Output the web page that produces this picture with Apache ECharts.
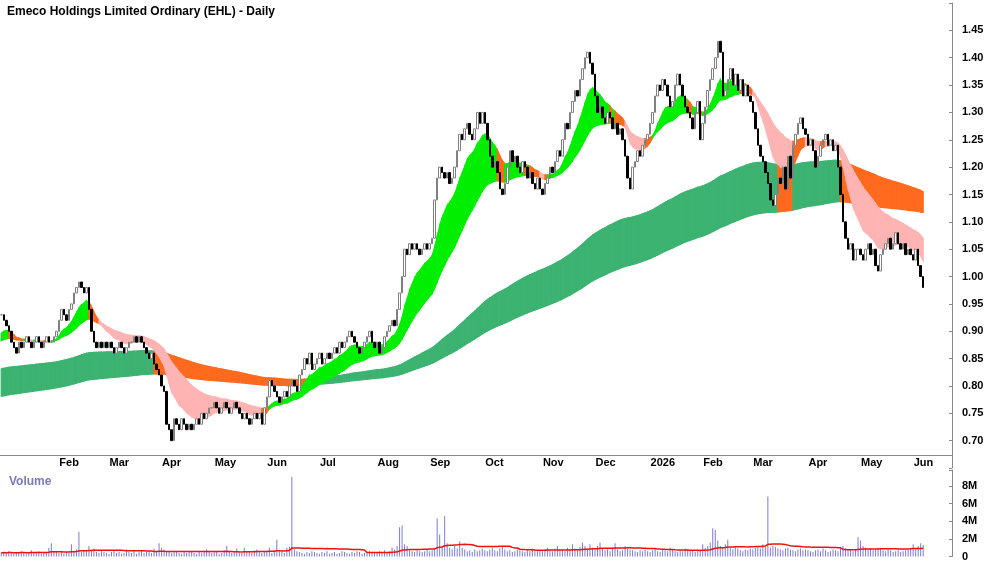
<!DOCTYPE html>
<html>
<head>
<meta charset="utf-8">
<script src="https://cdn.jsdelivr.net/npm/echarts@6/dist/echarts.min.js"></script>
<style>
html, body { margin: 0; padding: 0; background: #fff; }
#chart { width: 1000px; height: 562px; }
</style>
</head>
<body>
<div id="chart"></div>
<script>
// month labels and daily closes per month (Jan 2025 .. Jun 2026)
var monthTags = ['Jan','Feb','Mar','Apr','May','Jun','Jul','Aug','Sep','Oct','Nov','Dec','2026','Feb','Mar','Apr','May','Jun'];
var closesByMonth = [
    [0.93,0.92,0.91,0.90,0.88,0.87,0.86,0.88,0.87,0.88,0.89,0.88,0.87,0.88,0.89,0.88,0.87,0.88,0.89,0.88,0.88,0.89],
    [0.90,0.92,0.94,0.93,0.92,0.94,0.95,0.97,0.98,0.99,0.98,0.97,0.98,0.94,0.90,0.88,0.87,0.88,0.87,0.88],
    [0.87,0.88,0.87,0.86,0.87,0.88,0.87,0.86,0.87,0.88,0.88,0.89,0.88,0.89,0.88,0.87,0.86,0.85,0.86,0.84,0.83],
    [0.82,0.80,0.79,0.73,0.72,0.70,0.74,0.73,0.72,0.74,0.73,0.72,0.73,0.72,0.73,0.74,0.73,0.75,0.74,0.75,0.76],
    [0.76,0.77,0.76,0.75,0.76,0.77,0.76,0.75,0.76,0.77,0.76,0.75,0.74,0.75,0.74,0.73,0.74,0.75,0.74,0.75,0.73],
    [0.76,0.78,0.81,0.80,0.79,0.78,0.77,0.78,0.79,0.78,0.80,0.81,0.80,0.79,0.82,0.83,0.85,0.84,0.86,0.83,0.84],
    [0.85,0.86,0.84,0.85,0.86,0.85,0.86,0.87,0.86,0.88,0.87,0.88,0.89,0.90,0.89,0.88,0.87,0.86,0.87,0.88,0.89,0.90,0.88],
    [0.87,0.88,0.86,0.87,0.89,0.90,0.91,0.92,0.91,0.94,0.97,1.00,1.05,1.04,1.06,1.05,1.06,1.05,1.04,1.05,1.06],
    [1.05,1.06,1.07,1.14,1.18,1.20,1.19,1.18,1.19,1.17,1.18,1.20,1.23,1.26,1.25,1.27,1.28,1.26,1.25,1.27,1.30,1.28],
    [1.30,1.28,1.25,1.22,1.20,1.21,1.19,1.16,1.15,1.17,1.20,1.23,1.21,1.22,1.20,1.19,1.21,1.20,1.18,1.19,1.17,1.16,1.18],
    [1.16,1.15,1.17,1.18,1.20,1.19,1.21,1.23,1.22,1.25,1.28,1.27,1.30,1.32,1.34,1.33,1.36,1.38,1.40,1.41,1.39],
    [1.37,1.33,1.30,1.31,1.29,1.28,1.30,1.29,1.27,1.28,1.26,1.27,1.25,1.22,1.18,1.16,1.20,1.21,1.23,1.22,1.24,1.25],
    [1.26,1.28,1.30,1.33,1.35,1.34,1.36,1.35,1.33,1.31,1.32,1.35,1.37,1.35,1.33,1.31,1.30,1.29,1.27,1.30,1.32],
    [1.25,1.28,1.31,1.34,1.36,1.38,1.40,1.43,1.41,1.33,1.34,1.36,1.38,1.35,1.37,1.34,1.36,1.33,1.35,1.33],
    [1.32,1.30,1.27,1.24,1.22,1.21,1.19,1.17,1.14,1.13,1.15,1.18,1.17,1.20,1.16,1.22,1.18,1.24,1.26,1.28,1.29,1.27],
    [1.26,1.24,1.25,1.23,1.20,1.22,1.24,1.25,1.26,1.24,1.25,1.23,1.24,1.20,1.15,1.10,1.07,1.05,1.06,1.03,1.05],
    [1.05,1.04,1.03,1.05,1.06,1.04,1.05,1.02,1.01,1.04,1.05,1.06,1.07,1.05,1.06,1.08,1.06,1.05,1.06,1.04,1.05],
    [1.04,1.03,1.05,1.02,1.00,0.98]
];
// volume in units of 100k shares
var volumes = [].concat(
    [4,5,3,6,4,3,5,4,6,5,3,4,7,5,4,6,3,5,4,10,15,6],
    [5,4,6,3,5,4,14,6,8,28,5,7,6,12,8,9,5,4,6,5],
    [4,3,5,6,4,5,3,4,8,5,4,6,3,5,7,4,5,6,4,9,6],
    [15,10,8,6,5,4,6,5,4,3,5,4,6,5,4,3,5,4,6,8,5],
    [4,5,6,3,4,7,12,5,4,6,9,5,4,10,6,5,4,7,8,5,4],
    [6,5,10,4,7,19,6,5,4,10,11,90,8,6,5,4,3,5,4,6,5],
    [4,3,5,4,6,3,4,5,3,4,6,5,4,3,5,4,6,5,3,4,5,6,4],
    [5,4,6,5,7,4,6,10,8,12,33,35,14,12,8,6,5,7,6,5,6],
    [8,6,7,10,43,25,12,46,15,10,8,12,9,17,10,8,6,7,5,8,6,7],
    [9,7,6,8,10,7,6,9,11,8,6,7,5,6,8,7,6,5,7,6,9,8,6],
    [7,6,8,10,7,6,9,12,8,7,6,10,8,14,9,7,11,16,12,9,14],
    [10,8,12,16,9,7,8,6,10,15,8,6,7,12,9,8,7,6,5,7,6,8],
    [6,5,7,9,6,5,8,7,6,10,8,6,5,7,6,9,8,6,7,5,6],
    [8,14,10,12,16,32,30,18,12,10,14,19,10,8,12,9,7,6,8,7],
    [9,8,10,12,9,14,11,68,10,12,11,9,8,7,9,10,8,7,6,8,9,7],
    [8,7,6,5,7,8,6,9,7,5,6,8,7,6,10,12,9,8,7,6,8],
    [22,18,12,10,8,9,7,8,10,9,7,6,8,7,5,6,7,5,6,7,8],
    [10,14,9,12,15,13]
);
// moving-average groups and their starting levels (read from the left edge)
var shortPeriods = [12, 15, 19, 24, 29, 35];
var shortSeeds = [0.89, 0.888, 0.886, 0.884, 0.882, 0.88];
var longPeriods = [160, 180, 200, 220, 245, 270];
var longSeeds = [0.83, 0.82, 0.81, 0.80, 0.79, 0.78];
var padDays = 11;

var closes = [], cats = [], monthStart = {};
closesByMonth.forEach(function (arr, m) {
    monthStart[closes.length] = monthTags[m];
    arr.forEach(function (c, k) { closes.push(c); cats.push(monthTags[m] + '-' + m + '-' + (k + 1)); });
});
for (var p = 0; p < padDays; p++) cats.push('pad-' + p);
delete monthStart[0];
function isMonthStart(i) { return monthStart[i] !== undefined; }

function ema(period, seed) {
    var k = 2 / (period + 1), out = [], e = seed;
    for (var i = 0; i < closes.length; i++) { e = closes[i] * k + e * (1 - k); out.push(e); }
    return out;
}
var shortE = shortPeriods.map(function (p, j) { return ema(p, shortSeeds[j]); });
var longE = longPeriods.map(function (p, j) { return ema(p, longSeeds[j]); });

function band(emas) {
    var hi = [], lo = [];
    for (var i = 0; i < closes.length; i++) {
        var v = emas.map(function (e) { return e[i]; });
        hi.push(Math.max.apply(null, v)); lo.push(Math.min.apply(null, v));
    }
    return { hi: hi, lo: lo };
}
var sb = band(shortE), lb = band(longE);

var shortColors = ['#00ee00', '#ff6a1e', '#ffb4b4'];
var longColors = ['#3cb371', '#ff6a1e'];
var shortData = [], longData = [];
for (var i = 1; i < closes.length; i++) {
    var diff = shortE[0][i] - shortE[5][i];
    var slowSlope = shortE[5][i] - shortE[5][i - 1];
    var sc = (diff > 0 && slowSlope >= 0) ? 0 : ((diff < 0 && slowSlope < 0) ? 2 : 1);
    shortData.push([i, sb.hi[i], sb.lo[i], sb.hi[i - 1], sb.lo[i - 1], sc]);
    var lc = shortE[0][i] >= longE[0][i] ? 0 : 1;
    longData.push([i, lb.hi[i], lb.lo[i], lb.hi[i - 1], lb.lo[i - 1], lc]);
}
function bandRender(colors) {
    return function (params, api) {
        var i = api.value(0);
        var p1 = api.coord([i - 1, api.value(3)]), p2 = api.coord([i, api.value(1)]);
        var p3 = api.coord([i, api.value(2)]), p4 = api.coord([i - 1, api.value(4)]);
        var c = colors[api.value(5)];
        return {
            type: 'polygon',
            shape: { points: [p1, p2, p3, p4] },
            style: { fill: c, stroke: c, lineWidth: 1.2 }
        };
    };
}

var candles = closes.map(function (c, i) {
    var o = i === 0 ? c : closes[i - 1];
    return [o, c, Math.min(o, c), Math.max(o, c)];
});
var vol = volumes.map(function (v) { return v * 1e5; });
var volMa = vol.map(function (v, i) {
    var s = 0, n = 0;
    for (var j = Math.max(0, i - 29); j <= i; j++) { s += vol[j]; n++; }
    return s / n;
});

var chart = echarts.init(document.getElementById('chart'));
chart.setOption({
    animation: false,
    title: [
        { text: 'Emeco Holdings Limited Ordinary (EHL) - Daily', left: 2, top: 1,
          textStyle: { fontFamily: 'Arial', fontSize: 12, fontWeight: 'bold', color: '#000' } },
        { text: 'Volume', left: 4, top: 471,
          textStyle: { fontFamily: 'Arial', fontSize: 12, fontWeight: 'bold', color: '#7a7ab8' } }
    ],
    grid: [
        { left: 0, right: 48, top: 3, height: 465 },
        { left: 0, right: 48, top: 470, bottom: 5 }
    ],
    xAxis: [
        { type: 'category', data: cats, gridIndex: 0, boundaryGap: true, offset: -13,
          axisLine: { lineStyle: { color: '#888' } },
          axisTick: { interval: function (i) { return isMonthStart(i); }, length: 4, lineStyle: { color: '#888' } },
          axisLabel: { interval: function (i) { return isMonthStart(i); },
              formatter: function (v, i) { return monthStart[i] || ''; },
              align: 'left', padding: [0, 0, 0, 3], margin: 2,
              fontFamily: 'Arial', fontSize: 11, fontWeight: 'bold', color: '#000' } },
        { type: 'category', data: cats, gridIndex: 1, boundaryGap: true,
          axisLine: { show: false }, axisTick: { show: false }, axisLabel: { show: false } }
    ],
    yAxis: [
        { type: 'value', gridIndex: 0, position: 'right', min: 0.65, max: 1.5, interval: 0.05,
          splitLine: { show: false },
          axisLine: { show: true, lineStyle: { color: '#888' } },
          axisTick: { show: true, length: 3, inside: true, lineStyle: { color: '#888' } },
          axisLabel: { margin: 10, fontFamily: 'Arial', fontSize: 11, fontWeight: 'bold', color: '#000',
              formatter: function (v) { return (v < 0.69 || v > 1.46) ? '' : v.toFixed(2); } } },
        { type: 'value', gridIndex: 1, position: 'right', min: 0, max: 9.8e6, interval: 2e6,
          splitLine: { show: false },
          axisLine: { show: true, lineStyle: { color: '#888' } },
          axisTick: { show: true, length: 3, inside: true, lineStyle: { color: '#888' } },
          axisLabel: { margin: 10, fontFamily: 'Arial', fontSize: 11, fontWeight: 'bold', color: '#000',
              formatter: function (v) { return v > 8.5e6 ? '' : (v === 0 ? '0' : (v / 1e6) + 'M'); } } }
    ],
    series: [
        { type: 'custom', xAxisIndex: 0, yAxisIndex: 0, renderItem: bandRender(longColors), data: longData, z: 1 },
        { type: 'custom', xAxisIndex: 0, yAxisIndex: 0, renderItem: bandRender(shortColors), data: shortData, z: 2 },
        { type: 'candlestick', xAxisIndex: 0, yAxisIndex: 0, data: candles, barWidth: 2, z: 5,
          itemStyle: { color: '#ffffff', color0: '#000000', borderColor: '#808080', borderColor0: '#000000', borderWidth: 1 } },
        { type: 'bar', xAxisIndex: 1, yAxisIndex: 1, data: vol, barWidth: 1,
          itemStyle: { color: '#7b7bd0' } },
        { type: 'line', xAxisIndex: 1, yAxisIndex: 1, data: volMa, symbol: 'none',
          lineStyle: { color: '#ee1111', width: 1.5 } }
    ]
});
</script>
</body>
</html>
